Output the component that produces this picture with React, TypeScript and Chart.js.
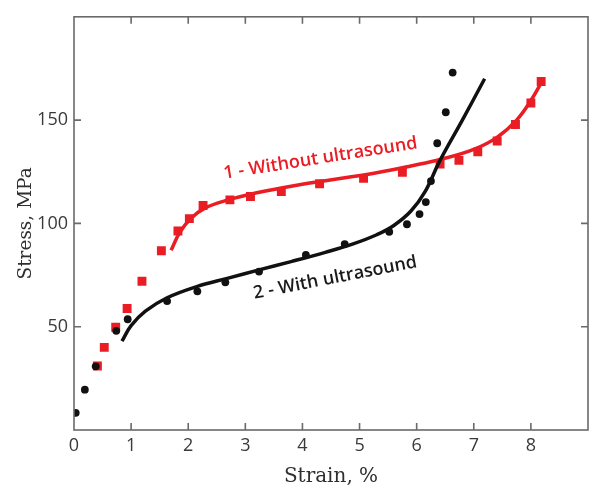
import React, { useEffect, useRef } from 'react';
import { Chart, registerables } from 'chart.js';
Chart.register(...registerables);

// Axis ticks
const xTickValues = [0, 1, 2, 3, 4, 5, 6, 7, 8];
const yTickValues = [50, 100, 150];
const X_MIN = 0, X_MAX = 9, Y_MIN = 0, Y_MAX = 200;

// Series 1 - Without ultrasound (measured points)
const redStrain = [0.41, 0.53, 0.73, 0.93, 1.19, 1.53, 1.82, 2.02, 2.26, 2.73, 3.09, 3.63, 4.3, 5.07, 5.75, 6.41, 6.74, 7.07, 7.41, 7.73, 8.0, 8.18];
const redStress = [31, 40, 49.7, 58.8, 72, 86.8, 96.3, 102.3, 108.7, 111.4, 113, 115.4, 119.2, 121.8, 124.7, 128.7, 130.5, 134.6, 139.9, 147.9, 158.3, 168.7];

// Series 2 - With ultrasound (measured points)
const blackStrain = [0.03, 0.19, 0.38, 0.74, 0.94, 1.63, 2.16, 2.65, 3.24, 4.06, 4.74, 5.52, 5.83, 6.05, 6.16, 6.25, 6.36, 6.51, 6.63];
const blackStress = [8.3, 19.5, 30.8, 48, 53.6, 62.4, 67.1, 71.5, 76.7, 84.7, 90, 95.9, 99.6, 104.5, 110.3, 120.5, 138.8, 153.8, 173];

// Fitted curves
const redFitStrain = [1.7, 1.85, 2.05, 2.3, 2.65, 3.2, 3.9, 4.6, 5.3, 5.9, 6.45, 7.0, 7.4, 7.75, 8.0, 8.22];
const redFitStress = [87, 95.5, 102.5, 107.5, 111, 114.8, 118.5, 121.5, 124.5, 127.8, 131.2, 135.8, 141.5, 150, 159.5, 170];
const blackFitStrain = [0.84, 1.0, 1.25, 1.63, 2.16, 2.7, 3.24, 3.8, 4.4, 4.9, 5.3, 5.6, 5.9, 6.15, 6.4, 6.8, 7.19];
const blackFitStress = [43, 50.5, 57.5, 64, 69.5, 73.5, 77.5, 81.5, 86, 90.2, 94.5, 99, 106, 115.5, 130, 150, 170];

const RED = '#ea1c24';
const BLACK = '#111111';

const annotations = [
  { text: '1 - Without ultrasound', x: 4.33, y: 129, angle: -9, color: RED },
  { text: '2 - With ultrasound', x: 4.59, y: 71.2, angle: -11, color: '#1a1a1a' },
];

const zip = (xs: number[], ys: number[]) => xs.map((x, i) => ({ x, y: ys[i] }));

const framePlugin = {
  id: 'frameTicks',
  afterDraw(chart: any) {
    const { ctx, chartArea: a, scales } = chart;
    const xs = scales.x, ys = scales.y;
    ctx.save();
    ctx.strokeStyle = '#6a6a6a';
    ctx.lineWidth = 1.6;
    ctx.strokeRect(a.left, a.top, a.right - a.left, a.bottom - a.top);
    const L = 7;
    ctx.beginPath();
    xTickValues.forEach((v) => {
      const px = xs.getPixelForValue(v);
      if (px <= a.left + 1) return;
      ctx.moveTo(px, a.bottom); ctx.lineTo(px, a.bottom - L);
      ctx.moveTo(px, a.top); ctx.lineTo(px, a.top + L);
    });
    yTickValues.forEach((v) => {
      const py = ys.getPixelForValue(v);
      ctx.moveTo(a.left, py); ctx.lineTo(a.left + L, py);
      ctx.moveTo(a.right, py); ctx.lineTo(a.right - L, py);
    });
    ctx.stroke();
    ctx.restore();

    ctx.save();
    ctx.font = '600 18px "Open Sans"';
    ctx.textAlign = 'center';
    ctx.textBaseline = 'alphabetic';
    annotations.forEach((an) => {
      const px = xs.getPixelForValue(an.x);
      const py = ys.getPixelForValue(an.y);
      ctx.save();
      ctx.translate(px, py);
      ctx.rotate((an.angle * Math.PI) / 180);
      ctx.fillStyle = an.color;
      ctx.fillText(an.text, 0, 0);
      ctx.restore();
    });
    ctx.restore();
  },
};

export default function App() {
  const ref = useRef<HTMLCanvasElement>(null);
  useEffect(() => {
    if (!ref.current) return;
    const chart = new Chart(ref.current, {
      type: 'scatter',
      data: {
        datasets: [
          {
            label: 'Without ultrasound fit',
            data: zip(redFitStrain, redFitStress),
            showLine: true,
            borderColor: RED,
            borderWidth: 3.5,
            pointRadius: 0,
            tension: 0.4,
            order: 2,
          },
          {
            label: 'With ultrasound fit',
            data: zip(blackFitStrain, blackFitStress),
            showLine: true,
            borderColor: BLACK,
            borderWidth: 3.5,
            pointRadius: 0,
            tension: 0.4,
            order: 1,
          },
          {
            label: '1 - Without ultrasound',
            data: zip(redStrain, redStress),
            pointStyle: 'rect',
            pointRadius: 6.3,
            backgroundColor: RED,
            borderColor: RED,
            borderWidth: 0,
            order: 4,
          },
          {
            label: '2 - With ultrasound',
            data: zip(blackStrain, blackStress),
            pointStyle: 'circle',
            pointRadius: 3.9,
            backgroundColor: BLACK,
            borderColor: BLACK,
            borderWidth: 0,
            order: 3,
          },
        ],
      },
      options: {
        responsive: false,
        animation: false,
        layout: { padding: { left: 0, top: 13, right: 7, bottom: 0 } },
        plugins: { legend: { display: false }, tooltip: { enabled: false } },
        scales: {
          x: {
            type: 'linear',
            min: X_MIN,
            max: X_MAX,
            afterBuildTicks: (s: any) => { s.ticks = xTickValues.map((v) => ({ value: v })); },
            afterFit: (s: any) => { s.height = 59; },
            grid: { display: false, drawTicks: false },
            border: { display: false },
            ticks: { color: '#3a3a3a', font: { family: 'Open Sans', size: 18 }, padding: 5, maxRotation: 0 },
            title: {
              display: true,
              text: 'Strain, %',
              color: '#2e2e2e',
              font: { family: 'DejaVu Serif', size: 20 },
              padding: { top: 0, bottom: 0 },
            },
          },
          y: {
            type: 'linear',
            min: Y_MIN,
            max: Y_MAX,
            afterBuildTicks: (s: any) => { s.ticks = yTickValues.map((v) => ({ value: v })); },
            afterFit: (s: any) => { s.width = 74; },
            grid: { display: false, drawTicks: false },
            border: { display: false },
            ticks: { color: '#3a3a3a', font: { family: 'Open Sans', size: 18 }, padding: 6 },
            title: {
              display: true,
              text: 'Stress, MPa',
              color: '#2e2e2e',
              font: { family: 'DejaVu Serif', size: 18.5 },
              padding: { top: 15, bottom: 0 },
            },
          },
        },
      },
      plugins: [framePlugin],
    } as any);
    return () => chart.destroy();
  }, []);
  return (
    <div style={{ position: 'fixed', left: 0, top: 0, width: 595, height: 489, background: '#fff' }}>
      <canvas ref={ref} width={595} height={489} style={{ display: 'block' }} />
    </div>
  );
}
